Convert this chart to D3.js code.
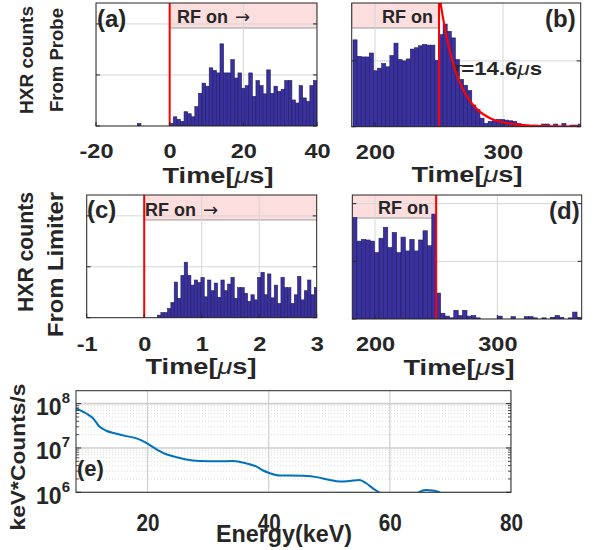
<!DOCTYPE html>
<html><head><meta charset="utf-8">
<script src="https://cdn.jsdelivr.net/npm/d3@7"></script>
<style>
body{margin:0;background:#fff}
svg{display:block}
text{font-family:"Liberation Sans",Arial,Helvetica,sans-serif;font-weight:bold;fill:#262626}
</style>
</head><body>
<svg id="c" width="598" height="550"></svg>
<script>
// ---------------- DATA ----------------
// (a) probe, RF turn-on, bins of width aBinWidth starting at aFirstBin*aBinWidth
const aBinWidth = 0.976;
const aFirstBin = -9;
const aCounts = [0.5,0,0,0,0,0,0,0,0,
  0.5,1.8,1.3,0.9,2.8,2.4,1.8,3.8,6.4,8.4,7.8,11.4,10.9,10.4,16.1,10.4,10.4,13.0,9.4,10.4,
  7.4,7.9,10.4,5.8,8.9,7.9,6.3,11.0,6.4,7.8,6.8,7.2,8.9,8.9,5.1,4.5,7.9,5.5,4.8,7.9,8.9];
const aXTicks = [-20,0,20,40];
const aYTicks = [0,10,20];

// (b) probe, RF turn-off
const bBinWidth = 3.2;
const bStart = 182.8;
const bCounts = [13.2,10.7,10.6,10.6,11.2,8.5,8.9,9.6,9.1,10.8,12.7,10.2,10.0,10.3,11.8,12.0,12.3,12.5,12.4,12.4,10.1,
  14.0,15.6,14.5,13.5,10.2,7.2,6.3,5.5,3.3,2.6,1.3,0.5,0.8,0.9,1.1,1.1,1.0,0.9,0.8,0.5,0.25,0.25,0.1,0.25,0.1,0.4,0.4,0.1,0.4,0.1,0.5,0.1,0.25,0.25,0.4];
const bFitT = [250.5,251,253,256,260,265,270,275,280,290,300,310,320,330,345,361];
const bFitV = [19.8,19.1,16.7,13.6,10.3,7.3,5.2,3.7,2.6,1.3,0.67,0.34,0.17,0.09,0.03,0.01];
const bXTicks = [200,300];
const bYTicks = [0,10,20];

// (c) limiter, RF turn-on
const cBinWidth = 0.058;
const cStart = 0;
const cCounts = [0,0,0,0,0.5,1.0,1.0,1.8,3.0,7.0,3.8,8.3,10.9,8.3,6.4,7.4,6.9,7.9,4.1,7.4,5.3,6.8,4.0,7.4,
  5.3,6.6,7.9,3.8,5.9,5.9,4.8,3.2,4.5,3.5,7.9,8.9,4.5,8.6,3.9,6.4,2.8,7.9,5.9,5.9,2.8,4.5,8.1,3.5,5.3,7.4,4.5,5.9];
const cXTicks = [-1,0,1,2,3];
const cYTicks = [0,10,20];

// (d) limiter, RF turn-off
const dBinWidth = 3.6;
const dStart = 181.6;
const dCounts = [17.6,13.5,13.8,13.7,13.5,11.5,14.0,15.9,12.4,15.0,11.5,14.2,11.8,13.8,11.8,13.7,15.3,12.7,18.2,
  4.5,1.0,0.5,0.2,1.5,0.6,1.5,0.5,0.6,0.2,0,0,0,0,0.5,0,0,0.4,0,0,0.4,0.4,0.2,0,0.2,0,0.3,0.6,0.3,0,0.2,1.2,0.3];
const dXTicks = [200,300];
const dYTicks = [0,10,20];

// (e) energy spectrum
const eEnergy = [8.2,9.9,11.0,12.1,13.2,14.9,16.5,18.2,19.8,20.9,22.0,23.1,24.8,26.4,28.6,31.4,34.1,36.3,38.0,39.1,40.2,41.8,43.5,45.7,47.9,50.1,51.7,53.4,55.0,56.1,57.2,58.2,60,62,64,64.8,66.0,67.1,68.2,70,75,80];
const eCounts = [7.85e7,6.0e7,4.7e7,3.0e7,2.45e7,2.1e7,1.85e7,1.65e7,1.3e7,1.05e7,8.5e6,7.2e6,6.2e6,5.5e6,5.1e6,5.0e6,5.1e6,4.5e6,3.8e6,3.1e6,2.7e6,2.4e6,2.4e6,2.35e6,2.2e6,1.9e6,1.75e6,1.8e6,1.9e6,1.6e6,1.23e6,1.0e6,5e5,4e5,7e5,1.0e6,1.12e6,1.1e6,1.0e6,6e5,4e5,3e5];
const eXTicks = [20,40,60,80];
const eYTicks = [1e6,1e7,1e8];
const eYLabels = ["6","7","8"];

// ---------------- DRAW ----------------
const svg = d3.select('#c');
const FONT = '"Liberation Sans",Arial,Helvetica,sans-serif';
const GRID = '#d6d6d6';
const AX = '#262626';
const BARFILL = '#3b30a0';
const BARSTROKE = '#1f1f5c';

function stretch(sel, k){
  sel.each(function(){
    const w = this.getComputedTextLength();
    this.setAttribute('textLength', (w*k).toFixed(1));
    this.setAttribute('lengthAdjust','spacingAndGlyphs');
  });
}
function setLen(sel, L){
  sel.attr('textLength', L).attr('lengthAdjust','spacingAndGlyphs');
}

function timeTitle(x, y){
  const t = svg.append('text').attr('x',x).attr('y',y).attr('text-anchor','middle').style('font-size','22px');
  t.append('tspan').text('Time[');
  t.append('tspan').style('font-style','italic').style('font-weight','normal').text('\u03bc');
  t.append('tspan').text('s]');
  setLen(t, 111);
}

function drawPanel(p){
  const x = d3.scaleLinear().domain(p.xd).range(p.xr);
  const y = d3.scaleLinear().domain(p.yd).range(p.yr);
  const g = svg.append('g');
  const id = 'clip' + p.name;
  g.append('clipPath').attr('id', id).append('rect')
    .attr('x', p.xr[0]).attr('y', p.yr[1]).attr('width', p.xr[1]-p.xr[0]).attr('height', p.yr[0]-p.yr[1]);
  const inner = g.append('g').attr('clip-path', `url(#${id})`);

  // RF-on shaded box
  inner.append('rect')
    .attr('x', x(p.rf[0])).attr('y', y(p.yd[1]) - 2)
    .attr('width', x(p.rf[1]) - x(p.rf[0]))
    .attr('height', y(p.rfY) - y(p.yd[1]) + 2)
    .attr('fill', '#fcdede').attr('stroke', '#9a9a9a').attr('stroke-width', 1);

  // grid
  inner.selectAll('.gx').data(p.xt).enter().append('line')
    .attr('x1', d=>x(d)).attr('x2', d=>x(d)).attr('y1', p.yr[0]).attr('y2', p.yr[1])
    .attr('stroke', GRID).attr('stroke-width', 1);
  inner.selectAll('.gy').data(p.yt).enter().append('line')
    .attr('y1', d=>y(d)).attr('y2', d=>y(d)).attr('x1', p.xr[0]).attr('x2', p.xr[1])
    .attr('stroke', GRID).attr('stroke-width', 1);

  // bars
  const bars = p.vals.map((v,i)=>({t0: p.start + i*p.w, t1: p.start + (i+1)*p.w, v})).filter(d=>d.v>0);
  inner.selectAll('.bar').data(bars).enter().append('rect')
    .attr('x', d=>x(d.t0)).attr('width', d=>x(d.t1)-x(d.t0))
    .attr('y', d=>y(d.v)).attr('height', d=>y(0)-y(d.v))
    .attr('fill', BARFILL).attr('stroke', BARSTROKE).attr('stroke-width', 0.6);

  // RF switch line
  inner.append('line').attr('x1', x(p.rfLine)).attr('x2', x(p.rfLine)).attr('y1', p.yr[0]).attr('y2', p.yr[1])
    .attr('stroke', '#ff0000').attr('stroke-width', 2);

  if (p.extra) p.extra(inner, x, y);

  // box
  g.append('rect').attr('x', p.xr[0]).attr('y', p.yr[1]).attr('width', p.xr[1]-p.xr[0]).attr('height', p.yr[0]-p.yr[1])
    .attr('fill','none').attr('stroke', AX).attr('stroke-width', 1);
  // inward ticks
  p.yt.forEach(d=>{
    if (y(d) < p.yr[1]) return;
    g.append('line').attr('x1',p.xr[0]).attr('x2',p.xr[0]+4).attr('y1',y(d)).attr('y2',y(d)).attr('stroke',AX);
    g.append('line').attr('x1',p.xr[1]).attr('x2',p.xr[1]-4).attr('y1',y(d)).attr('y2',y(d)).attr('stroke',AX);
  });
  p.xt.forEach(d=>{
    g.append('line').attr('x1',x(d)).attr('x2',x(d)).attr('y1',p.yr[0]).attr('y2',p.yr[0]-4).attr('stroke',AX);
  });

  // x tick labels
  const ax = g.append('g').attr('transform', `translate(0,${p.yr[0]})`)
    .call(d3.axisBottom(x).tickValues(p.xt).tickSize(0).tickFormat(d=>String(d)));
  ax.select('.domain').remove();
  ax.attr('font-size', null).attr('font-family', null);
  ax.selectAll('text').attr('y', p.tickDy).attr('dy', 0)
    .attr('fill', AX).style('font-size', '21px').style('font-family', FONT).style('font-weight','bold');
  stretch(ax.selectAll('text'), 1.12);

  timeTitle(p.titleX, p.titleY);

  // RF on label
  const rt = svg.append('text').attr('x', p.rfTextX).attr('y', p.rfTextY).style('font-size','18px');
  rt.append('tspan').text('RF on');
  if (p.arrow) rt.append('tspan').attr('dx', 7).style('font-weight','normal').style('font-family','"DejaVu Sans",sans-serif').text('\u2192');

  // panel letter
  svg.append('text').attr('x', p.letterX).attr('y', p.letterY).style('font-size','24px').text(p.letter);
}

// (a)
drawPanel({name:'a', xd:[-20,40], xr:[96,317], yd:[0,24.1], yr:[126,3],
  xt:aXTicks, yt:aYTicks, vals:aCounts, start:aFirstBin*aBinWidth, w:aBinWidth,
  rf:[0,40], rfY:19.2, rfLine:0, tickDy:32, titleX:218, titleY:183,
  rfTextX:177, rfTextY:23, arrow:true, letter:'(a)', letterX:97, letterY:27});

// (b)
drawPanel({name:'b', xd:[181.8,360.7], xr:[351.7,580.7], yd:[0,18.8], yr:[126.7,3],
  xt:bXTicks, yt:bYTicks, vals:bCounts, start:bStart, w:bBinWidth,
  rf:[181.8,250], rfY:15.0, rfLine:250, tickDy:32, titleX:467, titleY:182,
  rfTextX:382, rfTextY:23, arrow:false, letter:'(b)', letterX:545, letterY:27,
  extra:(inner,x,y)=>{
    const t = inner.append('text').attr('x',453).attr('y',75).style('font-size','19px');
    t.append('tspan').style('font-style','italic').style('font-weight','normal').text('\u03c4');
    t.append('tspan').text('=14.6');
    t.append('tspan').style('font-style','italic').style('font-weight','normal').text('\u03bc');
    t.append('tspan').text('s');
    setLen(t, 89);
    const pts = bFitT.map((tt,i)=>[tt,bFitV[i]]);
    inner.append('path').attr('d', d3.line().x(d=>x(d[0])).y(d=>y(d[1])).curve(d3.curveMonotoneX)(pts))
      .attr('fill','none').attr('stroke','#ff0000').attr('stroke-width',2.2);
  }});

// (c)
drawPanel({name:'c', xd:[-1,3], xr:[86.7,316.7], yd:[0,24.1], yr:[317.7,195],
  xt:cXTicks, yt:cYTicks, vals:cCounts, start:cStart, w:cBinWidth,
  rf:[0,3], rfY:19.2, rfLine:0, tickDy:33, titleX:201, titleY:374,
  rfTextX:145, rfTextY:216, arrow:true, letter:'(c)', letterX:87, letterY:218});

// (d)
drawPanel({name:'d', xd:[181.4,369], xr:[352.3,581.7], yd:[0,21.5], yr:[319,195],
  xt:dXTicks, yt:dYTicks, vals:dCounts, start:dStart, w:dBinWidth,
  rf:[181.4,250], rfY:17.5, rfLine:250, tickDy:32, titleX:459, titleY:375,
  rfTextX:378, rfTextY:214, arrow:false, letter:'(d)', letterX:549, letterY:219});

// left labels (rotated)
function vlabel(txt, x, yStart, len, size){
  const t = svg.append('text').attr('transform', `translate(${x},${yStart}) rotate(-90)`)
    .attr('text-anchor','start').style('font-size', size+'px').text(txt);
  setLen(t, len);
}
vlabel('HXR counts', 33, 114, 108, 19);
vlabel('From Probe', 63, 112, 104, 18.5);
vlabel('HXR counts', 33, 312, 120, 22);
vlabel('From Limiter', 63, 337, 145, 22);

// (e) spectrum
(function(){
  const xr=[76,511], yr=[492.3,390.7];
  const x = d3.scaleLinear().domain([8.2,80]).range(xr);
  const y = d3.scaleLog().domain([1e6,1.96e8]).range(yr);
  const g = svg.append('g');
  g.append('clipPath').attr('id','clipe').append('rect').attr('x',xr[0]).attr('y',yr[1]).attr('width',xr[1]-xr[0]).attr('height',yr[0]-yr[1]);
  const inner = g.append('g').attr('clip-path','url(#clipe)');
  // minor grid
  const minors = [];
  [1e6,1e7,1e8].forEach(dec=>{ for(let k=2;k<=9;k++){ if(dec*k<1.96e8) minors.push(dec*k); } });
  inner.selectAll('.mg').data(minors).enter().append('line')
    .attr('x1',xr[0]).attr('x2',xr[1]).attr('y1',d=>y(d)).attr('y2',d=>y(d))
    .attr('stroke','#d0d0d0').attr('stroke-width',0.8).attr('stroke-dasharray','1,2');
  inner.selectAll('.gy').data(eYTicks).enter().append('line')
    .attr('x1',xr[0]).attr('x2',xr[1]).attr('y1',d=>y(d)).attr('y2',d=>y(d))
    .attr('stroke','#cfcfcf').attr('stroke-width',1.6);
  inner.selectAll('.gx').data(eXTicks).enter().append('line')
    .attr('x1',d=>x(d)).attr('x2',d=>x(d)).attr('y1',yr[0]).attr('y2',yr[1])
    .attr('stroke','#cfcfcf').attr('stroke-width',1.2);
  const pts = eEnergy.map((e,i)=>[e,eCounts[i]]);
  inner.append('path').attr('d', d3.line().x(d=>x(d[0])).y(d=>y(d[1])).curve(d3.curveMonotoneX)(pts))
    .attr('fill','none').attr('stroke','#0072BD').attr('stroke-width',2);
  g.append('rect').attr('x',xr[0]).attr('y',yr[1]).attr('width',xr[1]-xr[0]).attr('height',yr[0]-yr[1])
    .attr('fill','none').attr('stroke',AX).attr('stroke-width',1);
  // minor ticks on left/right
  minors.forEach(d=>{
    g.append('line').attr('x1',xr[0]).attr('x2',xr[0]+3).attr('y1',y(d)).attr('y2',y(d)).attr('stroke',AX).attr('stroke-width',0.8);
    g.append('line').attr('x1',xr[1]).attr('x2',xr[1]-3).attr('y1',y(d)).attr('y2',y(d)).attr('stroke',AX).attr('stroke-width',0.8);
  });
  eYTicks.forEach(d=>{
    g.append('line').attr('x1',xr[0]).attr('x2',xr[0]+5).attr('y1',y(d)).attr('y2',y(d)).attr('stroke',AX);
    g.append('line').attr('x1',xr[1]).attr('x2',xr[1]-5).attr('y1',y(d)).attr('y2',y(d)).attr('stroke',AX);
  });
  // x tick labels
  const ax = g.append('g').attr('transform',`translate(0,${yr[0]})`)
    .call(d3.axisBottom(x).tickValues(eXTicks).tickSize(0).tickFormat(d=>String(d)));
  ax.select('.domain').remove();
  ax.attr('font-size',null).attr('font-family',null);
  ax.selectAll('text').attr('y',39).attr('dy',0).attr('fill',AX)
    .style('font-size','23px').style('font-family',FONT).style('font-weight','bold');
  stretch(ax.selectAll('text'), 0.9);
  // y tick labels
  eYTicks.forEach((d,i)=>{
    const t = svg.append('text').attr('x',70).attr('y',y(d)+11.5).attr('text-anchor','end').style('font-size','23px');
    t.append('tspan').text('10');
    t.append('tspan').attr('dy',-12).style('font-size','15px').text(eYLabels[i]);
  });
  // axis titles
  const xt = svg.append('text').attr('x',284).attr('y',542).attr('text-anchor','middle').style('font-size','23px').text('Energy(keV)');
  setLen(xt, 136);
  const yt = svg.append('text').attr('transform','translate(25,457) rotate(-90)').attr('text-anchor','middle').style('font-size','21px').text('keV*Counts/s');
  setLen(yt, 147);
  svg.append('text').attr('x',77).attr('y',476).style('font-size','22px').text('(e)');
})();
</script>
</body></html>
